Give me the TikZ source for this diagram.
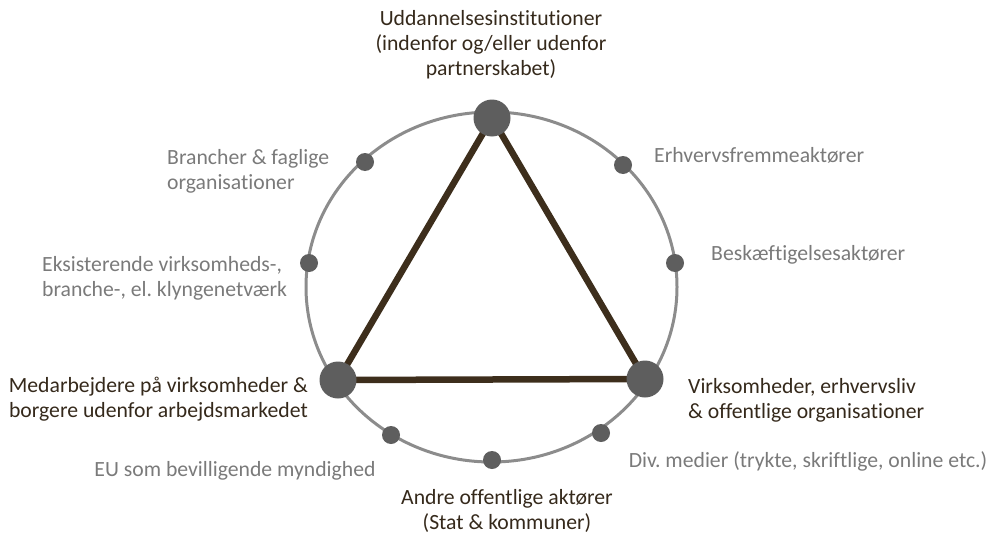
\documentclass[tikz,border=0pt]{standalone}
\usepackage{fontspec}
\setmainfont{Carlito}[Ligatures={NoCommon}]
\usetikzlibrary{backgrounds}
\definecolor{ringgray}{HTML}{8C8C8C}
\definecolor{dotgray}{HTML}{5E5E5E}
\definecolor{tribrown}{HTML}{3D2E1C}
\definecolor{labgray}{HTML}{7A7A7A}
\definecolor{labdark}{HTML}{35291B}
\frenchspacing
\begin{document}
\begin{tikzpicture}[x=1pt,y=-1pt,
  bigdot/.style={circle,fill=dotgray,minimum size=37pt,inner sep=0pt},
  smalldot/.style={circle,fill=dotgray,minimum size=18pt,inner sep=0pt},
  lab/.style={inner sep=0pt,font=\fontsize{21.7}{25}\selectfont},
  darklab/.style={lab,text=labdark},
  graylab/.style={lab,text=labgray}]
\useasboundingbox (0,0) rectangle (1001,535);
% main actors
\node[bigdot] (T) at (492,118) {};
\node[bigdot] (L) at (338,380) {};
\node[bigdot] (R) at (645,379) {};
% other actors
\node[smalldot] (d1) at (365,162) {};
\node[smalldot] (d2) at (623,165) {};
\node[smalldot] (d3) at (309,263) {};
\node[smalldot] (d4) at (675,263) {};
\node[smalldot] (d5) at (391,435) {};
\node[smalldot] (d6) at (601,433) {};
\node[smalldot] (d7) at (492,460) {};
\begin{scope}[on background layer]
  \draw[ringgray,line width=3pt] (491.5,287) ellipse [x radius=185.5pt, y radius=175pt];
  \draw[tribrown,line width=6.5pt,line join=round] (T.center) -- (L.center) -- (R.center) -- cycle;
\end{scope}
% labels
\node[darklab,align=center] (tT) at (491,45) {Uddannelsesinstitutioner\\(indenfor og/eller udenfor\\partnerskabet)};
\node[darklab,align=right,anchor=east] (tL) at (308,399) {Medarbejdere på virksomheder \&\\borgere udenfor arbejdsmarkedet};
\node[darklab,align=left,anchor=west] (tR) at (688,400) {Virksomheder, erhvervsliv\\\& offentlige organisationer};
\node[darklab,align=center] (t7) at (507,511) {Andre offentlige aktører\\(Stat \& kommuner)};
\node[graylab,align=left,anchor=west] (t1) at (167,171) {Brancher \& faglige\\organisationer};
\node[graylab,align=left,anchor=west] (t3) at (42,278) {Eksisterende virksomheds-,\\branche-, el. klyngenetværk};
\node[graylab,anchor=west] (t2) at (654,155) {Erhvervsfremmeaktører};
\node[graylab,anchor=west] (t4) at (711,255) {Beskæftigelsesaktører};
\node[graylab] (t5) at (235,471) {EU som bevilligende myndighed};
\node[graylab] (t6) at (808,461) {Div.\ medier (trykte, skriftlige, online etc.)};
\end{tikzpicture}
\end{document}
